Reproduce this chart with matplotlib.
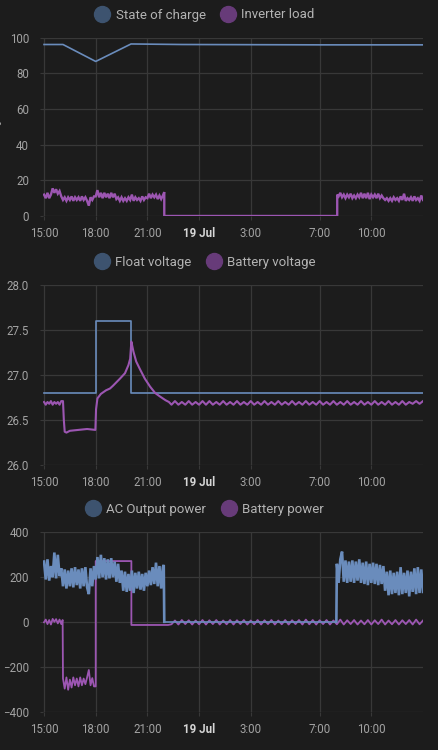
import numpy as np
import matplotlib
matplotlib.use("Agg")
import matplotlib.pyplot as plt
from matplotlib.lines import Line2D

# time axis: hours after 15:00 on 18 Jul
tick_hours = [0, 3, 6, 9, 12, 16, 19]
tick_labels = ["15:00", "18:00", "21:00", "19 Jul", "3:00", "7:00", "10:00"]

# ---- panel 1: state of charge / inverter load (%)
soc_t = [0, 1.1, 3.0, 5.05, 8, 12, 16, 19, 22]
soc_v = [96.2, 96.2, 86.7, 96.5, 96.2, 96.1, 96.0, 96.0, 96.0]

load_day_t = np.arange(0, 6.95, 0.1)
load_day_v = [12, 10, 13, 10, 12, 15.5, 13, 15, 12.5, 14,
              11, 9, 10.5, 8.5, 10.5, 9, 11, 8.5, 10.5, 9,
              10.5, 8.5, 11, 9, 10.5, 8.5, 5.8, 10.5, 9, 11,
              11, 14.5, 10.5, 13, 10, 13, 10.5, 12.5, 10, 13,
              10.5, 12.5, 9.5, 10.5, 8.5, 10.5, 8.5, 10, 8.5, 10.5,
              9, 12, 8.5, 10.5, 9, 10, 8.5, 11, 9, 10.5,
              10, 12.5, 10, 12, 10.5, 12, 9.5, 11.5, 9.5, 11.5]
load_off_t = [6.98, 6.98, 17.02, 17.02]
load_off_v = [13.4, 0, 0, 12]
load_morn_t = np.arange(17.1, 22.05, 0.1)
load_morn_v = [11, 13, 10.5, 12, 10, 12, 10.5, 12.5, 10, 11.5,
               10, 12, 10.5, 13, 10, 12.5, 10, 13, 9.5, 12,
               10.5, 12, 10, 12.5, 10, 11.5, 10, 9, 10, 8.5,
               10, 8.5, 10.5, 9, 10, 8.5, 11, 9, 12.5, 8.5,
               10, 9, 10.5, 8.5, 11, 9, 10, 8.5, 11.5, 9]

# ---- panel 2: float voltage / battery voltage (V)
float_t = [0, 3, 3, 5.07, 5.07, 22]
float_v = [26.8, 26.8, 27.6, 27.6, 26.8, 26.8]

batv_t = [0, 0.1, 0.2, 0.3, 0.4, 0.5, 0.6, 0.7, 0.8, 0.9, 1.0, 1.1,
          1.15, 1.2, 1.3, 1.5, 2.0, 2.5, 2.98, 3.02, 3.1, 3.3, 3.6, 3.83,
          4.0, 4.41, 4.7, 4.9, 5.0, 5.05, 5.07, 5.19, 5.35, 5.58, 5.85,
          6.16, 6.45, 6.74, 7.05, 7.25]
batv_v = [26.70, 26.67, 26.70, 26.68, 26.71, 26.67, 26.70, 26.68, 26.70, 26.67, 26.71, 26.71,
          26.50, 26.37, 26.36, 26.38, 26.39, 26.40, 26.39, 26.62, 26.74, 26.79, 26.83, 26.85,
          26.88, 26.96, 27.02, 27.11, 27.18, 27.32, 27.37, 27.26, 27.15, 27.06, 26.96,
          26.87, 26.80, 26.76, 26.72, 26.70]
batv_wave_t = np.arange(7.4, 22.05, 0.2)
batv_wave_v = [26.67, 26.71, 26.67, 26.70, 26.67, 26.71, 26.67, 26.70, 26.67, 26.71,
               26.67, 26.71, 26.67, 26.70, 26.67, 26.71, 26.67, 26.70, 26.67, 26.71,
               26.67, 26.70, 26.67, 26.71, 26.67, 26.70, 26.67, 26.71, 26.67, 26.70,
               26.67, 26.71, 26.67, 26.70, 26.67, 26.71, 26.67, 26.70, 26.67, 26.71,
               26.67, 26.70, 26.67, 26.71, 26.67, 26.70, 26.67, 26.71, 26.67, 26.70,
               26.67, 26.71, 26.67, 26.70, 26.67, 26.71, 26.67, 26.70, 26.67, 26.71,
               26.67, 26.70, 26.67, 26.71, 26.67, 26.70, 26.67, 26.71, 26.67, 26.70,
               26.68, 26.71, 26.68, 26.71]

# ---- panel 3: AC output power / battery power (W)
ac_day_t = np.arange(0, 6.95, 0.1)
ac_day_v = [270, 190, 280, 185, 250, 200, 310, 195, 300, 205,
            240, 160, 235, 150, 230, 160, 240, 155, 245, 165,
            235, 150, 240, 160, 245, 155, 125, 240, 160, 250,
            190, 290, 195, 300, 200, 285, 190, 280, 195, 285,
            200, 270, 180, 260, 175, 230, 140, 225, 135, 215,
            140, 230, 130, 220, 150, 225, 145, 215, 140, 220,
            160, 230, 165, 245, 170, 265, 160, 250, 150, 245]
ac_off_t = [6.95, 6.98, 16.97]
ac_off_v = [255, 2, 2]
ac_morn_t = np.arange(17.0, 22.05, 0.1)
ac_morn_v = [260, 175, 280, 314, 180, 275, 175, 270, 180, 275,
             175, 270, 185, 280, 175, 265, 170, 270, 165, 260,
             175, 265, 170, 260, 165, 255, 170, 250, 140, 225,
             120, 230, 125, 220, 130, 225, 120, 245, 125, 220,
             130, 230, 115, 225, 135, 240, 125, 245, 130, 235, 135]

batp_t = [0, 0.1, 0.2, 0.3, 0.4, 0.5, 0.6, 0.7, 0.8, 0.9, 1.0, 1.08, 1.1,
          1.2, 1.3, 1.4, 1.5, 1.6, 1.7, 1.8, 1.9, 2.0, 2.1, 2.2, 2.3, 2.4,
          2.5, 2.6, 2.7, 2.8, 2.9, 3.0, 3.0, 5.07, 5.07, 7.2]
batp_v = [0, 12, -8, 10, -10, 15, 2, 14, -5, 12, -8, 10, -250,
          -295, -245, -300, -255, -290, -245, -280, -250, -285, -245, -280, -250, -275,
          -245, -212, -280, -248, -285, -285, 272, 272, -12, -12]
batp_wave_t = np.arange(7.4, 22.05, 0.2)
batp_wave_v = [-9, 8, -10, 10, -8, 9, -10, 8, -9, 10, -10, 9, -8, 10, -10, 8,
               -9, 10, -10, 9, -8, 10, -10, 8, -9, 10, -10, 9, -8, 10, -10, 8,
               -9, 10, -10, 9, -8, 10, -10, 12, -9, 10, -10, 9, -8, 10, -10, 8,
               -9, 12, -10, 9, -8, 10, -10, 8, -9, 10, -10, 9, -8, 12, -10, 8,
               -9, 10, -10, 9, -8, 10, -10, 12, -9, 8]

BG = "#1c1c1c"
GRID = "#383838"
TICK = "#a3a3a3"
BLUE = "#6a8cbc"
PURPLE = "#9c56b2"
BLUE_DOT = "#3d536f"
PURPLE_DOT = "#673b79"

plt.rcParams["font.family"] = ["Roboto", "DejaVu Sans"]

fig = plt.figure(figsize=(4.38, 7.5), dpi=100, facecolor=BG)

panels = [
    (0.712, 0.2377),
    (0.380, 0.2400),
    (0.0503, 0.2400),
]
axes = []
for bottom, height in panels:
    ax = fig.add_axes([43 / 438, bottom, 380 / 438, height], facecolor=BG)
    for s in ax.spines.values():
        s.set_visible(False)
    ax.grid(True, color=GRID, linewidth=0.9)
    ax.set_axisbelow(True)
    ax.set_xlim(-0.06, 22.0)
    ax.set_xticks(tick_hours)
    ax.set_xticklabels(tick_labels)
    ax.tick_params(axis="x", colors=GRID, labelcolor=TICK, labelsize=8.3, length=3, pad=5)
    ax.tick_params(axis="y", colors=GRID, labelcolor=TICK, labelsize=8.3, length=2, pad=8)
    lab = ax.get_xticklabels()[3]
    lab.set_fontweight("bold")
    lab.set_color("#d6d6d6")
    axes.append(ax)

ax1, ax2, ax3 = axes

# panel 1
ax1.plot(soc_t, soc_v, color=BLUE, lw=1.2)
load_t = np.concatenate([load_day_t, load_off_t, load_morn_t])
load_v = np.concatenate([load_day_v, load_off_v, load_morn_v])
ax1.plot(load_t, load_v, color=PURPLE, lw=1.7, solid_joinstyle="miter")
ax1.set_ylim(0, 100)
ax1.set_yticks([0, 20, 40, 60, 80, 100])
fig.text(-0.004, 1 - 125 / 750, "%", rotation=90, color=TICK, fontsize=8.3,
         ha="center", va="center")

# panel 2
ax2.plot(float_t, float_v, color=BLUE, lw=1.2)
ax2.plot(np.concatenate([batv_t, batv_wave_t]), np.concatenate([batv_v, batv_wave_v]),
         color=PURPLE, lw=1.5)
ax2.set_ylim(26.0, 28.0)
ax2.set_yticks([26.0, 26.5, 27.0, 27.5, 28.0])
ax2.set_yticklabels(["26.0", "26.5", "27.0", "27.5", "28.0"])

# panel 3
ax3.plot(np.concatenate([batp_t, batp_wave_t]), np.concatenate([batp_v, batp_wave_v]),
         color=PURPLE, lw=1.3)
# noisy daytime stretches drawn heavier so they read as a band, quiet night line thin
ax3.plot(np.concatenate([ac_day_t, ac_off_t[:2]]), np.concatenate([ac_day_v, ac_off_v[:2]]),
         color=BLUE, lw=1.9, solid_joinstyle="miter")
ax3.plot(ac_off_t[1:], ac_off_v[1:], color=BLUE, lw=1.2)
ax3.plot(np.concatenate([ac_off_t[2:], ac_morn_t]), np.concatenate([ac_off_v[2:], ac_morn_v]),
         color=BLUE, lw=1.9, solid_joinstyle="miter")
ax3.set_ylim(-400, 400)
ax3.set_yticks([-400, -200, 0, 200, 400])

legends = [
    (["State of charge", "Inverter load"], 1 - 15 / 750),
    (["Float voltage", "Battery voltage"], 1 - 262.5 / 750),
    (["AC Output power", "Battery power"], 1 - 509.5 / 750),
]
for names, y in legends:
    handles = [
        Line2D([], [], marker="o", linestyle="none", markersize=11.5,
               markerfacecolor=BLUE_DOT, markeredgecolor=BLUE_DOT),
        Line2D([], [], marker="o", linestyle="none", markersize=11.5,
               markerfacecolor=PURPLE_DOT, markeredgecolor=PURPLE_DOT),
    ]
    fig.legend(handles, names, loc="center", bbox_to_anchor=(0.467, y), ncol=2,
               frameon=False, fontsize=9.5, labelcolor="#b3b3b3",
               handlelength=1.2, handletextpad=0.4, columnspacing=1.1,
               borderpad=0, borderaxespad=0)

fig.savefig("out.png", dpi=100, facecolor=BG)
